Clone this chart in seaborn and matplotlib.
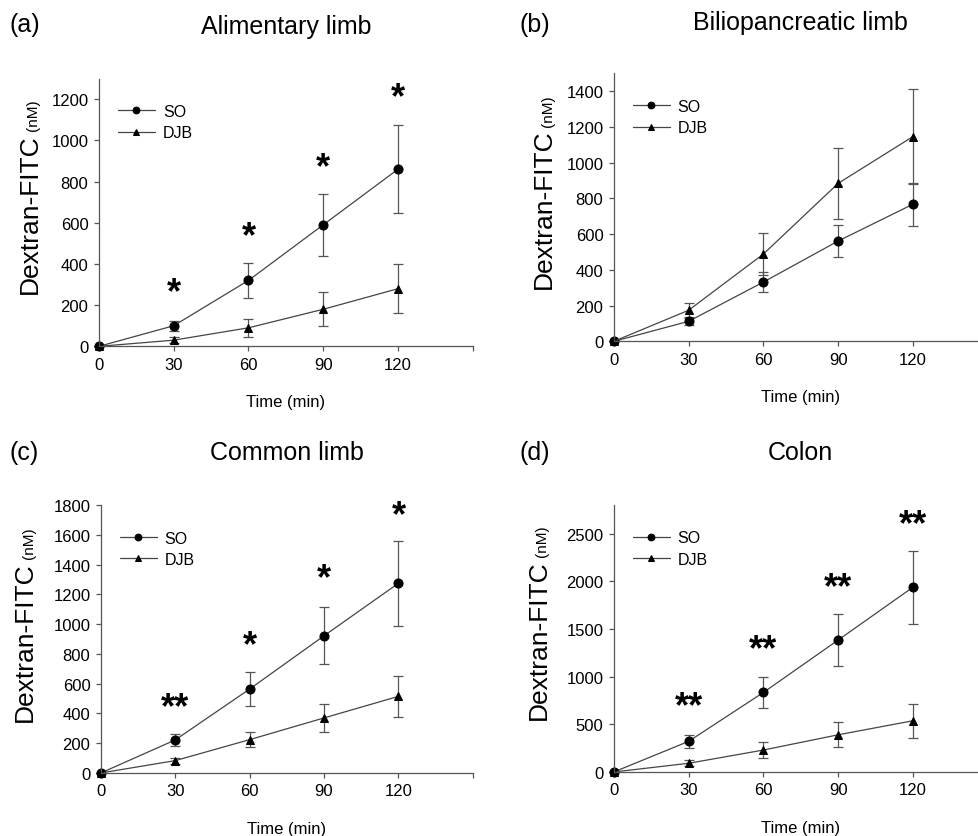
import numpy as np
import matplotlib
matplotlib.use("Agg")
import matplotlib.pyplot as plt
import seaborn as sns

times = [0, 30, 60, 90, 120]

# (a) alimentary limb
a_so = [0, 100, 320, 590, 860]
a_so_err = [0, 25, 83, 150, 212]
a_djb = [0, 30, 90, 180, 280]
a_djb_err = [0, 15, 45, 82, 118]
a_star = ["*", "*", "*", "*"]
a_star_y = [260, 530, 868, 1205]

# (b) biliopancreatic limb
b_so = [0, 112, 332, 562, 768]
b_so_err = [0, 20, 56, 92, 120]
b_djb = [0, 174, 489, 885, 1147]
b_djb_err = [0, 40, 118, 198, 268]

# (c) common limb
c_so = [0, 222, 564, 922, 1275]
c_so_err = [0, 38, 112, 192, 285]
c_djb = [0, 83, 224, 370, 515]
c_djb_err = [0, 20, 52, 92, 137]
c_star = ["**", "*", "*", "*"]
c_star_y = [440, 856, 1306, 1730]

# (d) colon
d_so = [0, 321, 834, 1384, 1938]
d_so_err = [0, 66, 163, 276, 384]
d_djb = [0, 91, 230, 390, 537]
d_djb_err = [0, 30, 81, 130, 181]
d_star = ["**", "**", "**", "**"]
d_star_y = [680, 1278, 1935, 2596]

star_x = [30, 60, 90, 120]

sns.set_style("ticks")
plt.rcParams['font.family'] = ['Liberation Sans', 'DejaVu Sans']
plt.rcParams['text.color'] = 'black'
plt.rcParams['xtick.labelcolor'] = 'black'
plt.rcParams['ytick.labelcolor'] = 'black'
plt.rcParams['axes.labelcolor'] = 'black'

fig = plt.figure(figsize=(9.79, 8.37), dpi=100)

panels = [
    dict(rect=[0.101, 0.585, 0.382, 0.320], so=a_so, so_err=a_so_err, djb=a_djb, djb_err=a_djb_err,
         ymax=1300, yticks=range(0, 1201, 200), stars=a_star, star_y=a_star_y,
         lab="(a)", title="Alimentary limb", lab_xy=(10, 25), title_xy=(286, 27), yl=(-0.167, 0.20)),
    dict(rect=[0.627, 0.591, 0.382, 0.320], so=b_so, so_err=b_so_err, djb=b_djb, djb_err=b_djb_err,
         ymax=1500, yticks=range(0, 1401, 200), stars=None, star_y=None,
         lab="(b)", title="Biliopancreatic limb", lab_xy=(520, 25), title_xy=(800, 23), yl=(-0.168, 0.198)),
    dict(rect=[0.103, 0.0753, 0.380, 0.320], so=c_so, so_err=c_so_err, djb=c_djb, djb_err=c_djb_err,
         ymax=1800, yticks=range(0, 1801, 200), stars=c_star, star_y=c_star_y,
         lab="(c)", title="Common limb", lab_xy=(10, 453), title_xy=(287, 453), yl=(-0.185, 0.195)),
    dict(rect=[0.627, 0.0765, 0.382, 0.319], so=d_so, so_err=d_so_err, djb=d_djb, djb_err=d_djb_err,
         ymax=2800, yticks=range(0, 2501, 500), stars=d_star, star_y=d_star_y,
         lab="(d)", title="Colon", lab_xy=(520, 453), title_xy=(800, 453), yl=(-0.183, 0.199)),
]

line_c = "#454545"
W, H = 979, 837

for p in panels:
    ax = fig.add_axes(p["rect"])
    ax.errorbar(times, p["so"], yerr=p["so_err"], fmt="none", ecolor="#555555",
                elinewidth=0.9, capsize=3.5, capthick=0.9)
    ax.errorbar(times, p["djb"], yerr=p["djb_err"], fmt="none", ecolor="#555555",
                elinewidth=0.9, capsize=3.5, capthick=0.9)
    sns.lineplot(x=times, y=p["so"], ax=ax, color=line_c, lw=0.9, marker="o", markersize=6.5,
                 markerfacecolor="black", markeredgecolor="black", label="SO")
    sns.lineplot(x=times, y=p["djb"], ax=ax, color=line_c, lw=0.9, marker="^", markersize=5.5,
                 markerfacecolor="black", markeredgecolor="black", label="DJB")

    ax.set_xlim(0, 150)
    ax.set_ylim(0, p["ymax"])
    ax.set_xticks([0, 30, 60, 90, 120, 150])
    ax.set_xticklabels(["0", "30", "60", "90", "120", ""])
    ax.set_yticks(list(p["yticks"]))
    ax.tick_params(labelsize=12, length=3.5, width=0.9, color="#555555", pad=4)
    for s in ["top", "right"]:
        ax.spines[s].set_visible(False)
    for s in ["left", "bottom"]:
        ax.spines[s].set_linewidth(0.9)
        ax.spines[s].set_color("#555555")
    for ln in ax.lines:
        ln.set_clip_on(False)
    for coll in ax.collections:
        coll.set_clip_on(False)

    ax.set_xlabel("Time (min)", fontsize=12, labelpad=16)
    ax.set_ylabel("")
    t1 = ax.annotate("Dextran-FITC", xy=p["yl"], xycoords="axes fraction", rotation=90,
                     rotation_mode="anchor", ha="left", va="baseline", fontsize=19)
    ax.annotate("(nM)", xy=(1, 1), xycoords=t1, xytext=(-3, 2), textcoords="offset points",
                rotation=90, rotation_mode="anchor", ha="left", va="baseline", fontsize=11)

    ax.legend(loc="upper left", bbox_to_anchor=(0.03, 0.935), frameon=False, fontsize=11.5,
              handlelength=2.3, handletextpad=0.5, labelspacing=0.4, borderpad=0,
              markerscale=0.75)

    if p["stars"]:
        for sx, sy, st in zip(star_x, p["star_y"], p["stars"]):
            ax.text(sx, sy, st, ha="center", va="center", fontsize=26, fontweight="bold",
                    color="black")

    fig.text(p["lab_xy"][0] / W, 1 - p["lab_xy"][1] / H, p["lab"], fontsize=18,
             ha="left", va="center")
    fig.text(p["title_xy"][0] / W, 1 - p["title_xy"][1] / H, p["title"], fontsize=18,
             ha="center", va="center")

fig.savefig("out.png", dpi=100)
